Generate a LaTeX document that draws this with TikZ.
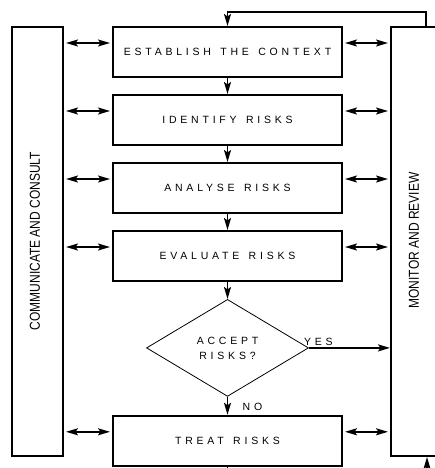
\documentclass[tikz,border=0pt]{standalone}
\usepackage{fontspec}
\setmainfont{Liberation Sans}
\newfontfamily\spacedFont[LetterSpace=36, WordSpace=1.4]{Liberation Sans}
\usetikzlibrary{positioning,shapes.geometric,arrows.meta}
\newcommand{\stepFont}{\spacedFont\fontsize{10.5}{15}\selectfont}
\newcommand{\sideLabel}[1]{\scalebox{1}[1.2]{\fontsize{12}{14}\selectfont #1}}
\tikzstyle{riskCanvas} = [x = 1pt, y = -1pt]
\tikzstyle{stepBox} = [draw, line width=2pt, minimum width=229pt, minimum height=50pt, inner sep=0pt, font=\stepFont]
\tikzstyle{sideBox} = [draw, line width=2pt, inner sep=0pt]
\tikzstyle{decisionBox} = [draw, diamond, line width=0.8pt, minimum width=162pt, minimum height=97pt, inner sep=0pt, align=center, font=\stepFont]
\tikzstyle{flowArrow} = [line width=1.8pt, -{Stealth[length=12pt, width=7pt, inset=2.5pt]}]
\tikzstyle{talkArrow} = [line width=1.8pt, {Stealth[length=12pt, width=7pt, inset=2.5pt]}-{Stealth[length=12pt, width=7pt, inset=2.5pt]}, shorten <=2pt, shorten >=2pt]
\tikzstyle{loopLine} = [line width=1.6pt]
\tikzstyle{answerText} = [inner sep=0pt, font=\stepFont]

\begin{document}
\begin{tikzpicture}[riskCanvas]
    \useasboundingbox (0,0) rectangle (435,468);
    \clip (0,0) rectangle (435,468);
    % side boxes
    \node[sideBox, minimum width=51pt, minimum height=429pt] (commBox) at (37.5,241.5) {};
    \node[rotate=90] (commLabel) at (35,241) {\sideLabel{COMMUNICATE AND CONSULT}};
    \node[sideBox, minimum width=46pt, minimum height=429pt] (monitorBox) at (414,241.5) {};
    \node[rotate=90] (monitorLabel) at (414,240.5) {\sideLabel{MONITOR AND REVIEW}};
    % process steps
    \node[stepBox] (establish) at (227.5,52) {ESTABLISH THE CONTEXT};
    \node[stepBox, below=16pt of establish] (identify) {IDENTIFY RISKS};
    \node[stepBox, below=16pt of identify] (analyse) {ANALYSE RISKS};
    \node[stepBox, below=16pt of analyse] (evaluate) {EVALUATE RISKS};
    \node[decisionBox, below=17pt of evaluate] (accept) {ACCEPT\\RISKS?};
    \node[stepBox, below=18pt of accept] (treat) {TREAT RISKS};
    \node[answerText, anchor=base west] (yesLabel) at ([xshift=-5pt, yshift=2pt]accept.east) {YES};
    \node[answerText, anchor=base west] (noLabel) at ([xshift=15pt, yshift=-13.5pt]accept.south) {NO};
    % flow
    \draw[flowArrow] (establish) -- (identify);
    \draw[flowArrow] (identify) -- (analyse);
    \draw[flowArrow] (analyse) -- (evaluate);
    \draw[flowArrow] (evaluate) -- (accept);
    \draw[flowArrow] (accept) -- (treat);
    \draw[flowArrow] (accept.east) -- (accept.east -| monitorBox.west);
    % talk to both sides
    \foreach \stepName in {establish,identify,analyse,evaluate,treat} {
      \coordinate (\stepName Left) at ([yshift=9pt]\stepName.west);
      \coordinate (\stepName Right) at ([yshift=9pt]\stepName.east);
      \draw[talkArrow] (commBox.east |- \stepName Left) -- (\stepName Left);
      \draw[talkArrow] (\stepName Right) -- (monitorBox.west |- \stepName Right);
    }
    % loops
    \coordinate (loopCorner) at (426,12);
    \draw[flowArrow] (monitorBox.north -| loopCorner) -- (loopCorner) -| (establish.north);
    \coordinate (treatExit) at (227.5,475);
    \draw[loopLine] (treat.south) -- (treatExit);
    \coordinate (monitorEntry) at (427,475);
    \draw[flowArrow] (monitorEntry) -- (monitorEntry |- monitorBox.south);
\end{tikzpicture}
\end{document}
